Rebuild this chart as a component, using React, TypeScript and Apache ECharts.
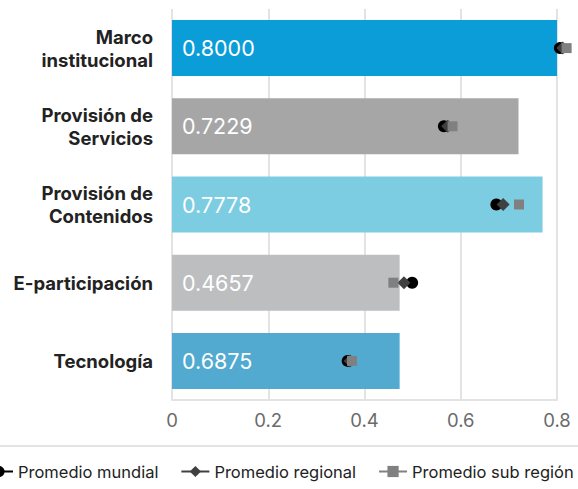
import React, { useEffect, useRef } from "react";
import * as echarts from "echarts";

const categories = [
  "Marco\ninstitucional",
  "Provisión de\nServicios",
  "Provisión de\nContenidos",
  "E-participación",
  "Tecnología",
];
const barValues = [0.8, 0.72, 0.77, 0.473, 0.473];
const barLabels = ["0.8000", "0.7229", "0.7778", "0.4657", "0.6875"];
const barColors = ["#0b9dd8", "#a6a6a6", "#7dcde2", "#bdbec0", "#52aad0"];
const promedioMundial = [0.806, 0.565, 0.674, 0.499, 0.365];
const promedioRegional = [0.812, 0.573, 0.688, 0.482, 0.37];
const promedioSubRegion = [0.82, 0.583, 0.721, 0.46, 0.374];
const xTicks = [0, 0.2, 0.4, 0.6, 0.8];

const FONT = "Inter, 'Noto Sans', sans-serif";

export default function App() {
  const ref = useRef<HTMLDivElement>(null);
  useEffect(() => {
    if (!ref.current) return;
    const chart = echarts.init(ref.current, undefined, { renderer: "svg" });
    const markerSeries = (name: string, data: number[], symbol: string, size: number, color: string, z: number) => ({
      type: "line",
      name,
      data,
      symbol,
      symbolSize: size,
      showSymbol: true,
      color,
      itemStyle: { color, opacity: 1 },
      lineStyle: { opacity: 0, width: 0 },
      clip: false,
      z,
    });
    chart.setOption({
      animation: false,
      textStyle: { fontFamily: FONT },
      grid: { left: 172, right: 21, top: 9, bottom: 89, containLabel: false },
      xAxis: {
        type: "value",
        min: xTicks[0],
        max: xTicks[xTicks.length - 1],
        interval: 0.2,
        axisLine: { show: true, lineStyle: { color: "#e3e3e3", width: 2 } },
        axisTick: { show: false },
        splitLine: { show: true, lineStyle: { color: "#e3e3e3", width: 2 } },
        axisLabel: {
          color: "#6b6b6b",
          fontSize: 18.5,
          margin: 10,
          fontFamily: FONT,
          formatter: (v: number) => String(Math.round(v * 10) / 10),
        },
      },
      yAxis: {
        type: "category",
        data: categories,
        inverse: true,
        axisLine: { show: false },
        axisTick: { show: false },
        splitLine: { show: false },
        axisLabel: {
          color: "#222222",
          fontSize: 18.5,
          fontWeight: "bold",
          lineHeight: 23,
          margin: 19,
          fontFamily: FONT,
        },
      },
      legend: {
        data: ["Promedio mundial", "Promedio regional", "Promedio sub región"],
        left: -21,
        top: 458,
        width: 700,
        orient: "horizontal",
        itemWidth: 28,
        itemHeight: 14,
        itemGap: 22,
        textStyle: { fontSize: 16.5, color: "#222222", fontFamily: FONT },
        lineStyle: { opacity: 1, width: 2 },
      },
      graphic: [
        {
          type: "line",
          shape: { x1: 0, y1: 446, x2: 578, y2: 446 },
          style: { stroke: "#e3e3e3", lineWidth: 2 },
        },
      ],
      series: [
        {
          type: "bar",
          name: "Valor",
          data: barValues.map((v, i) => ({ value: v, itemStyle: { color: barColors[i] } })),
          barWidth: 56,
          label: {
            show: true,
            position: "insideLeft",
            distance: 10,
            color: "#ffffff",
            fontSize: 21.5,
            fontFamily: FONT,
            formatter: (p: any) => barLabels[p.dataIndex],
          },
          z: 2,
        },
        markerSeries("Promedio mundial", promedioMundial, "circle", 12, "#000000", 3),
        markerSeries("Promedio regional", promedioRegional, "diamond", 13, "#404040", 4),
        markerSeries("Promedio sub región", promedioSubRegion, "rect", 10, "#808080", 5),
      ],
    });
    return () => chart.dispose();
  }, []);
  return <div ref={ref} style={{ width: 578, height: 489, position: "absolute", left: 0, top: 0 }} />;
}
